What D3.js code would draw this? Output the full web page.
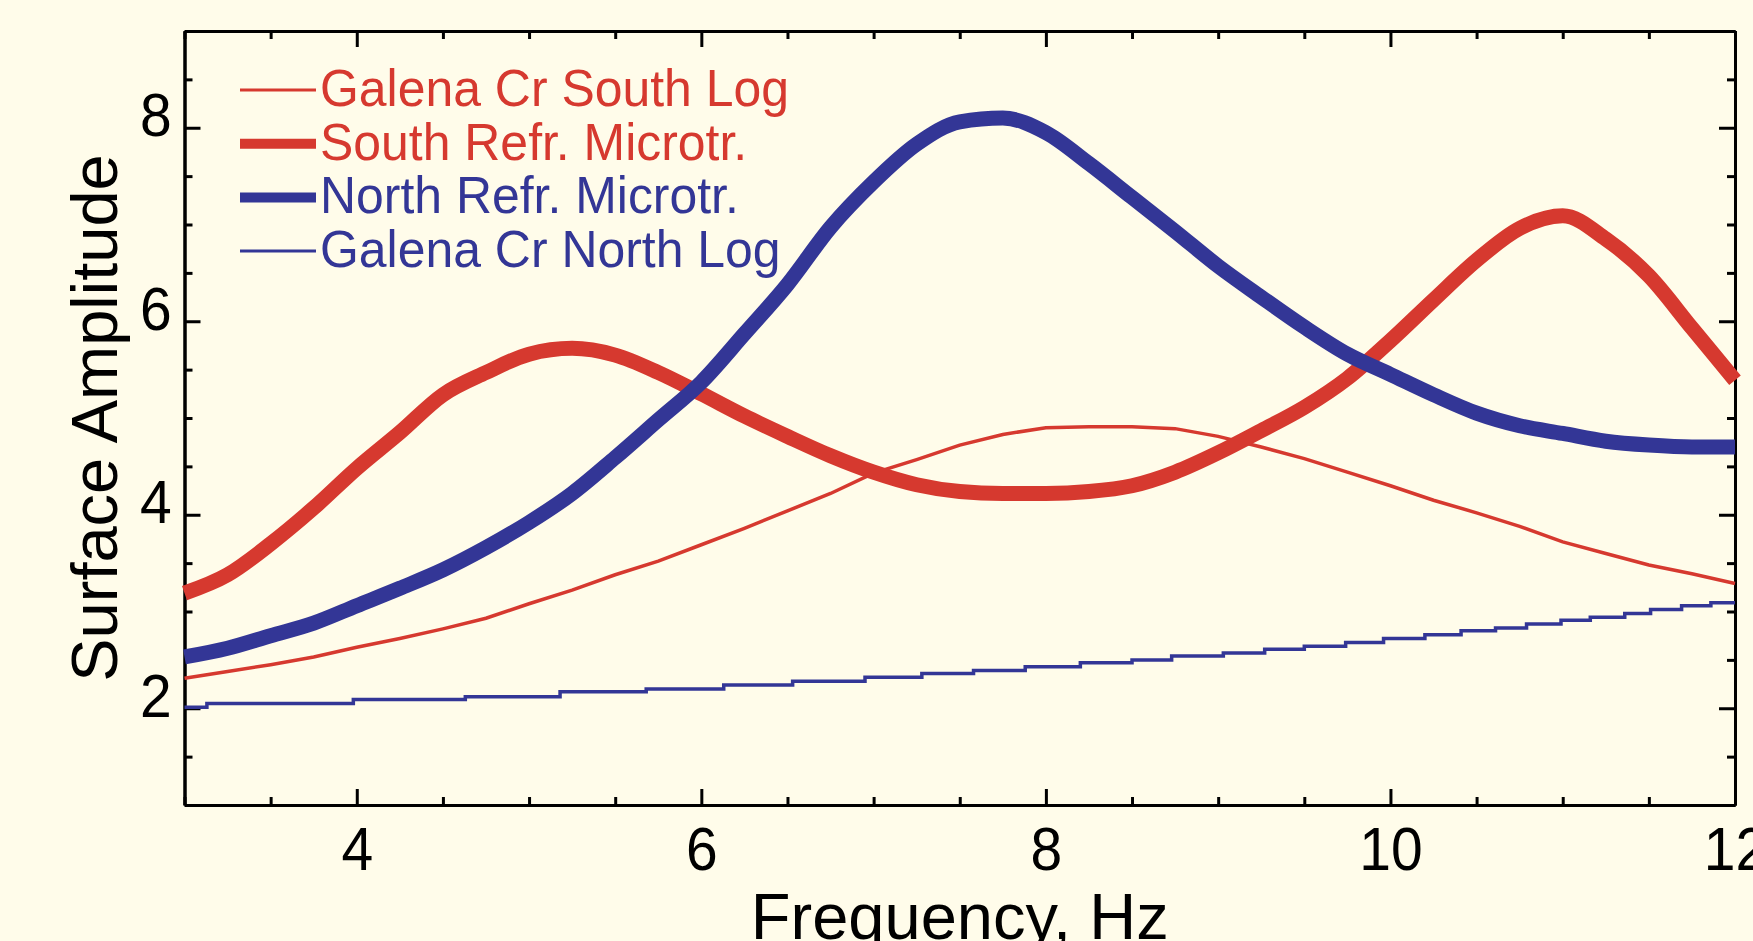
<html>
<head>
<meta charset="utf-8">
<title>Surface Amplitude vs Frequency</title>
<script src="https://d3js.org/d3.v7.min.js"></script>
<style>
  body { margin: 0; background: #fffcea; }
  svg { display: block; }
  text { font-family: "Liberation Sans", Arial, Helvetica, sans-serif; }
  .axis path, .axis line { stroke: #000; stroke-width: 3px; }
  .axis text { font-size: 62px; fill: #000; }
</style>
</head>
<body>
<svg id="chart" width="1753" height="941"></svg>
<script>
// frequency grid (Hz) for the smooth curves
const freq = [3.0, 3.25, 3.5, 3.75, 4.0, 4.25, 4.5, 4.75, 5.0, 5.25, 5.5, 5.75, 6.0,
  6.25, 6.5, 6.75, 7.0, 7.25, 7.5, 7.75, 8.0, 8.25, 8.5, 8.75, 9.0, 9.25, 9.5, 9.75,
  10.0, 10.25, 10.5, 10.75, 11.0, 11.25, 11.5, 11.75, 12.0];

const southLog = [2.31, 2.38, 2.45, 2.53, 2.63, 2.72, 2.82, 2.93, 3.08, 3.22, 3.38, 3.52, 3.69,
  3.86, 4.04, 4.22, 4.43, 4.57, 4.72, 4.83, 4.9, 4.91, 4.91, 4.89, 4.81, 4.7, 4.58, 4.44,
  4.3, 4.15, 4.02, 3.88, 3.72, 3.6, 3.48, 3.39, 3.29];

const southRefr = [3.19, 3.38, 3.7, 4.07, 4.48, 4.85, 5.24, 5.47, 5.66, 5.72, 5.65, 5.47, 5.25,
  5.02, 4.81, 4.61, 4.44, 4.31, 4.24, 4.22, 4.22, 4.24, 4.3, 4.44, 4.64, 4.87, 5.11, 5.41,
  5.8, 6.22, 6.63, 6.96, 7.09, 6.85, 6.47, 5.93, 5.39];

const northRefr = [2.53, 2.62, 2.75, 2.88, 3.06, 3.24, 3.43, 3.66, 3.92, 4.22, 4.59, 4.98, 5.37,
  5.87, 6.38, 6.97, 7.44, 7.83, 8.06, 8.1, 7.95, 7.63, 7.28, 6.93, 6.57, 6.25, 5.94, 5.66,
  5.45, 5.24, 5.05, 4.92, 4.84, 4.76, 4.72, 4.7, 4.7];

// Galena Cr North Log is a staircase: frequency where each step starts, and its level
const northLogFreq = [3.0, 3.13, 3.98, 4.63, 5.18, 5.68, 6.13, 6.53, 6.95, 7.28, 7.58, 7.88,
  8.2, 8.5, 8.73, 9.03, 9.27, 9.5, 9.74, 9.96, 10.2, 10.41, 10.61, 10.79, 10.99, 11.16,
  11.36, 11.51, 11.69, 11.86, 12.0];
const northLogAmp = [2.01, 2.05, 2.09, 2.12, 2.17, 2.2, 2.24, 2.28, 2.32, 2.36, 2.39, 2.43,
  2.47, 2.5, 2.54, 2.57, 2.61, 2.64, 2.68, 2.72, 2.76, 2.8, 2.83, 2.87, 2.91, 2.94,
  2.98, 3.02, 3.06, 3.09, 3.09];

const xMajor = [4, 6, 8, 10, 12];
const yMajor = [2, 4, 6, 8];

const red = "#d6392f";
const blue = "#333696";

const svg = d3.select("#chart");
const margin = { top: 31, right: 18, bottom: 136, left: 184.5 };
const width = +svg.attr("width") - margin.left - margin.right;
const height = +svg.attr("height") - margin.top - margin.bottom;

svg.append("rect").attr("width", 1753).attr("height", 941).attr("fill", "#fffcea");

const g = svg.append("g").attr("transform", "translate(" + margin.left + "," + margin.top + ")");

const x = d3.scaleLinear().domain([3, 12]).range([0, width]);
const y = d3.scaleLinear().domain([1, 9]).range([height, 0]);

const xMinor = d3.range(3, 12.01, 0.5).filter(v => !xMajor.includes(v));
const yMinor = d3.range(1, 9.01, 0.5).filter(v => !yMajor.includes(v));

// minor ticks on all four sides, pointing inward
g.append("g").attr("class", "axis").attr("transform", "translate(0," + height + ")")
  .call(d3.axisBottom(x).tickValues(xMinor).tickSize(-8).tickSizeOuter(0).tickFormat(""));
g.append("g").attr("class", "axis")
  .call(d3.axisTop(x).tickValues(xMinor).tickSize(-8).tickSizeOuter(0).tickFormat(""));
g.append("g").attr("class", "axis")
  .call(d3.axisLeft(y).tickValues(yMinor).tickSize(-8).tickSizeOuter(0).tickFormat(""));
g.append("g").attr("class", "axis").attr("transform", "translate(" + width + ",0)")
  .call(d3.axisRight(y).tickValues(yMinor).tickSize(-8).tickSizeOuter(0).tickFormat(""));

// major ticks
g.append("g").attr("class", "axis").attr("transform", "translate(0," + height + ")")
  .call(d3.axisBottom(x).tickValues(xMajor).tickSize(-16).tickSizeOuter(0).tickPadding(21).tickFormat(d3.format("d")))
  .selectAll("text").attr("transform", "scale(0.92,1)");
g.append("g").attr("class", "axis")
  .call(d3.axisTop(x).tickValues(xMajor).tickSize(-16).tickSizeOuter(0).tickFormat(""));
g.append("g").attr("class", "axis")
  .call(d3.axisLeft(y).tickValues(yMajor).tickSize(-16).tickSizeOuter(0).tickPadding(14).tickFormat(d3.format("d")))
  .selectAll("text").attr("dy", "0.13em").attr("transform", "scale(0.92,1)");
g.append("g").attr("class", "axis").attr("transform", "translate(" + width + ",0)")
  .call(d3.axisRight(y).tickValues(yMajor).tickSize(-16).tickSizeOuter(0).tickFormat(""));

g.selectAll(".axis").attr("font-family", null).attr("font-size", null);

// curves
const line = d3.line().x(d => x(d[0])).y(d => y(d[1]));
const smooth = d3.line().x(d => x(d[0])).y(d => y(d[1])).curve(d3.curveMonotoneX);
const step = d3.line().x(d => x(d[0])).y(d => y(d[1])).curve(d3.curveStepAfter);

g.append("path").datum(d3.zip(northLogFreq, northLogAmp))
  .attr("fill", "none").attr("stroke", blue).attr("stroke-width", 3.5).attr("d", step);

g.append("path").datum(d3.zip(freq, southLog))
  .attr("fill", "none").attr("stroke", red).attr("stroke-width", 3.5).attr("d", line);

g.append("path").datum(d3.zip(freq, southRefr))
  .attr("fill", "none").attr("stroke", red).attr("stroke-width", 15).attr("d", smooth);

g.append("path").datum(d3.zip(freq, northRefr))
  .attr("fill", "none").attr("stroke", blue).attr("stroke-width", 15).attr("d", smooth);

// legend
const legend = [
  { name: "Galena Cr South Log", color: red, w: 3 },
  { name: "South Refr. Microtr.", color: red, w: 10 },
  { name: "North Refr. Microtr.", color: blue, w: 10 },
  { name: "Galena Cr North Log", color: blue, w: 3 }
];
const leg = svg.append("g");
legend.forEach((d, i) => {
  const ly = 90 + i * 53.7;
  leg.append("line").attr("x1", 240).attr("x2", 316).attr("y1", ly).attr("y2", ly)
    .attr("stroke", d.color).attr("stroke-width", d.w);
  leg.append("text").attr("transform", "translate(320," + (ly + 16) + ") scale(0.96,1)")
    .attr("font-size", 52).attr("fill", d.color).text(d.name);
});

// axis titles
svg.append("text").attr("x", margin.left + width / 2).attr("y", 939)
  .attr("text-anchor", "middle").attr("font-size", 65).text("Frequency, Hz");
svg.append("text").attr("transform", "translate(117," + (margin.top + height / 2) + ") rotate(-90)")
  .attr("text-anchor", "middle").attr("font-size", 65).text("Surface Amplitude");
</script>
</body>
</html>
